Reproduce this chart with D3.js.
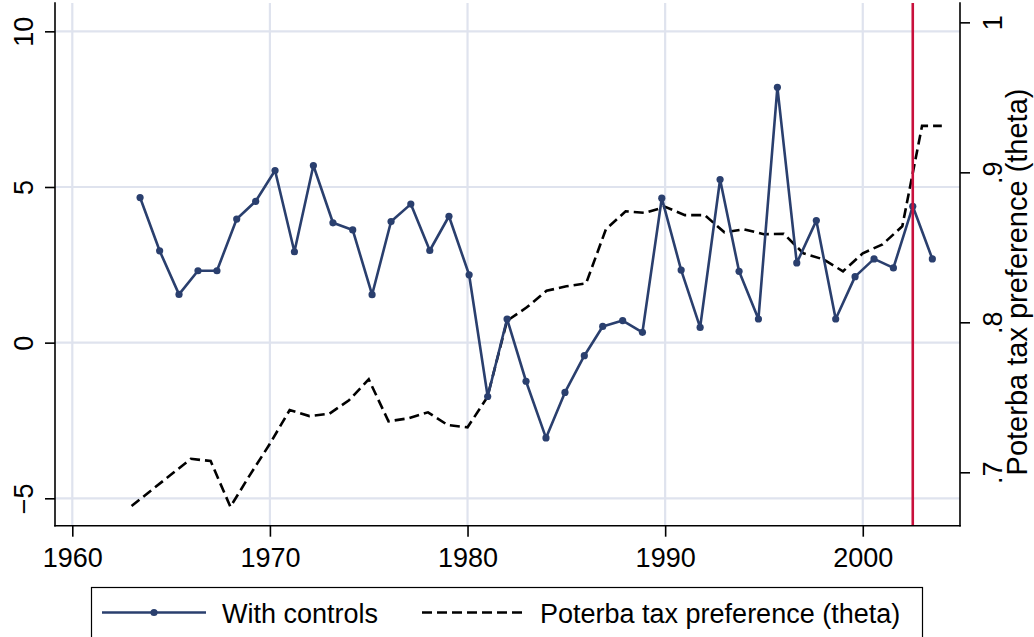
<!DOCTYPE html>
<html>
<head>
<meta charset="utf-8">
<script src="https://cdn.jsdelivr.net/npm/d3@7"></script>
<style>
  html, body { margin: 0; padding: 0; background: #fff; overflow: hidden; }
  svg { display: block; font-family: "Liberation Sans", Arial, Helvetica, sans-serif; }
</style>
</head>
<body>
<svg id="chart" width="1034" height="637"></svg>
<script>
// ---- data ----
const controlsX = [1963.43, 1964.42, 1965.40, 1966.36, 1967.32, 1968.32, 1969.28, 1970.26, 1971.24, 1972.20,
  1973.19, 1974.19, 1975.17, 1976.13, 1977.13, 1978.09, 1979.06, 1980.08, 1981.02, 1982.00,
  1982.96, 1983.97, 1984.93, 1985.91, 1986.84, 1987.85, 1988.85, 1989.83, 1990.81, 1991.77,
  1992.78, 1993.74, 1994.72, 1995.68, 1996.66, 1997.65, 1998.63, 1999.61, 2000.57, 2001.55,
  2002.53, 2003.52];
const controlsY = [4.66, 2.95, 1.55, 2.31, 2.31, 3.97, 4.54, 5.53, 2.92, 5.69,
  3.85, 3.62, 1.54, 3.89, 4.45, 2.96, 4.06, 2.18, -1.73, 0.76,
  -1.24, -3.06, -1.60, -0.42, 0.52, 0.71, 0.33, 4.64, 2.33, 0.49,
  5.24, 2.29, 0.76, 8.20, 2.56, 3.92, 0.76, 2.12, 2.69, 2.40,
  4.38, 2.69];
const thetaYears = d3.range(1963, 2005);
const thetaValues = [0.6775, 0.688, 0.6985, 0.709, 0.7075, 0.677, 0.6985, 0.719, 0.7415, 0.7375,
  0.739, 0.748, 0.762, 0.734, 0.736, 0.740, 0.7315, 0.730, 0.750, 0.801,
  0.810, 0.821, 0.824, 0.826, 0.862, 0.874, 0.873, 0.877, 0.8715, 0.8715,
  0.860, 0.862, 0.8587, 0.859, 0.846, 0.842, 0.834, 0.846, 0.852, 0.864,
  0.931, 0.931];
const xTicks = [1960, 1970, 1980, 1990, 2000];
const leftTicks = [-5, 0, 5, 10];
const rightTicks = [0.7, 0.8, 0.9, 1];
const rightTickLabels = [".7", ".8", ".9", "1"];
const markerYear = 2002.53;
const legendLabels = ["With controls", "Poterba tax preference (theta)"];
const rightTitle = "Poterba tax preference (theta)";

// ---- layout ----
const plot = { left: 55, right: 960, top: 3, bottom: 525.7 };
const blue = "#2a3f6e", red = "#c8103c", grid = "#dfe3ee";
const fontSize = 27;

const svg = d3.select("#chart");
const x = d3.scaleLinear().domain([1959.125, 2004.92]).range([plot.left, plot.right]);
const yL = d3.scaleLinear().domain([-5.88, 10.91]).range([plot.bottom, plot.top]);
const yR = d3.scaleLinear().domain([0.6644, 1.0129]).range([plot.bottom, plot.top]);

// gridlines
const g = svg.append("g");
g.selectAll("line.hg").data(leftTicks).join("line")
  .attr("x1", plot.left).attr("x2", plot.right)
  .attr("y1", d => yL(d)).attr("y2", d => yL(d))
  .attr("stroke", grid).attr("stroke-width", 2.2);
g.selectAll("line.vg").data(xTicks).join("line")
  .attr("y1", plot.top).attr("y2", plot.bottom)
  .attr("x1", d => x(d)).attr("x2", d => x(d))
  .attr("stroke", grid).attr("stroke-width", 2.2);

// theta dashed line
svg.append("path")
  .datum(thetaYears.map((yr, i) => [yr, thetaValues[i]]))
  .attr("fill", "none").attr("stroke", "#000").attr("stroke-width", 2.6)
  .attr("stroke-dasharray", "10,5")
  .attr("d", d3.line().x(d => x(d[0])).y(d => yR(d[1])));

// controls line
const cData = controlsX.map((v, i) => [v, controlsY[i]]);
svg.append("path").datum(cData)
  .attr("fill", "none").attr("stroke", blue).attr("stroke-width", 2.6)
  .attr("stroke-linejoin", "round")
  .attr("d", d3.line().x(d => x(d[0])).y(d => yL(d[1])));
svg.selectAll("circle.pt").data(cData).join("circle")
  .attr("cx", d => x(d[0])).attr("cy", d => yL(d[1])).attr("r", 3.6).attr("fill", blue);

// red vertical line
svg.append("line")
  .attr("x1", x(markerYear)).attr("x2", x(markerYear))
  .attr("y1", plot.top).attr("y2", plot.bottom)
  .attr("stroke", red).attr("stroke-width", 2.6);

// axes
const axisStyle = sel => {
  sel.select(".domain").remove();
  sel.selectAll(".tick line").attr("stroke", "#000").attr("stroke-width", 1.6);
  sel.selectAll(".tick text").attr("fill", "#000").style("font-size", fontSize + "px")
    .style("font-family", '"Liberation Sans", Arial, sans-serif');
};

const xAxis = svg.append("g").attr("transform", `translate(0,${plot.bottom})`)
  .call(d3.axisBottom(x).tickValues(xTicks).tickFormat(d3.format("d")).tickSizeOuter(0).tickSize(11).tickPadding(11));
axisStyle(xAxis);

const lAxis = svg.append("g").attr("transform", `translate(${plot.left},0)`)
  .call(d3.axisLeft(yL).tickValues(leftTicks).tickFormat(d3.format("d")).tickSizeOuter(0).tickSize(10));
axisStyle(lAxis);
lAxis.selectAll(".tick text")
  .attr("x", null).attr("dy", null)
  .attr("text-anchor", "middle")
  .attr("transform", "translate(-22,0) rotate(-90)")
  .attr("dy", "0");

const rAxis = svg.append("g").attr("transform", `translate(${plot.right},0)`)
  .call(d3.axisRight(yR).tickValues(rightTicks).tickFormat((d, i) => rightTickLabels[i]).tickSizeOuter(0).tickSize(10));
axisStyle(rAxis);
rAxis.selectAll(".tick text")
  .attr("x", null).attr("dy", null)
  .attr("text-anchor", "middle")
  .attr("transform", "translate(41.5,0) rotate(-90)")
  .attr("dy", "0");

// axis lines (left, bottom, right)
const axisLines = [
  [plot.left, plot.top, plot.left, plot.bottom],
  [plot.left, plot.bottom, plot.right, plot.bottom],
  [plot.right, plot.top, plot.right, plot.bottom]
];
svg.selectAll("line.axisline").data(axisLines).join("line")
  .attr("x1", d => d[0]).attr("y1", d => d[1]).attr("x2", d => d[2]).attr("y2", d => d[3])
  .attr("stroke", "#000").attr("stroke-width", 1.6).attr("stroke-linecap", "square");

// right axis title
svg.append("text")
  .attr("transform", `translate(1027,${282}) rotate(-90)`)
  .attr("text-anchor", "middle")
  .style("font-size", "29px")
  .text(rightTitle);

// legend
const lg = svg.append("g");
lg.append("rect").attr("x", 91.5).attr("y", 587.5).attr("width", 831).attr("height", 70)
  .attr("fill", "#fff").attr("stroke", "#000").attr("stroke-width", 1.2);
const ly = 612.5;
lg.append("line").attr("x1", 102).attr("x2", 206).attr("y1", ly).attr("y2", ly)
  .attr("stroke", blue).attr("stroke-width", 2.6);
lg.append("circle").attr("cx", 154).attr("cy", ly).attr("r", 3.6).attr("fill", blue);
lg.append("text").attr("x", 222).attr("y", 623).style("font-size", fontSize + "px").text(legendLabels[0]);
lg.append("line").attr("x1", 422).attr("x2", 525).attr("y1", ly).attr("y2", ly)
  .attr("stroke", "#000").attr("stroke-width", 2.6).attr("stroke-dasharray", "10,5");
lg.append("text").attr("x", 540).attr("y", 623).style("font-size", fontSize + "px").text(legendLabels[1]);
</script>
</body>
</html>
